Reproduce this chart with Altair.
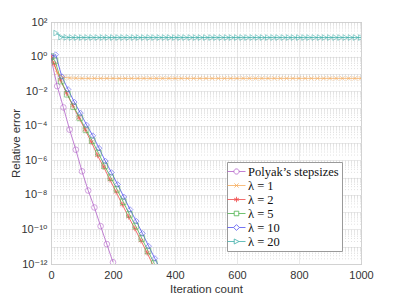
import altair as alt
import pandas as pd

# ---------------- data ----------------
series_names = ["Polyak\u2019s stepsizes", "\u03bb = 1", "\u03bb = 2", "\u03bb = 5", "\u03bb = 10", "\u03bb = 20"]
colors = ["#B160C8", "#F6AD5E", "#F04848", "#4DB24D", "#5050F0", "#3FAFAA"]

polyak_x = [0, 20, 40, 60, 80, 100, 120, 140, 160, 180, 200]
polyak_log = [-0.08, -1.71, -2.94, -4.23, -5.39, -6.64, -7.75, -8.73, -9.81, -10.85, -11.9]

lam1_x = list(range(0, 1001, 20))
lam1_log = [0.0, -0.95, -1.2, -1.24, -1.25, -1.26, -1.26, -1.26, -1.26, -1.26,
            -1.26, -1.26, -1.26, -1.26, -1.26, -1.26, -1.26, -1.26, -1.26, -1.26,
            -1.26, -1.26, -1.26, -1.26, -1.26, -1.26, -1.26, -1.26, -1.26, -1.26,
            -1.26, -1.26, -1.26, -1.26, -1.26, -1.26, -1.26, -1.26, -1.26, -1.26,
            -1.26, -1.26, -1.26, -1.26, -1.26, -1.26, -1.26, -1.26, -1.26, -1.26,
            -1.26]

lam2_x = [0, 10, 30, 50, 70, 90, 110, 130, 150, 170, 190, 210, 230, 250, 270, 290, 310, 330]
lam2_log = [0.0, -0.42, -1.35, -2.11, -2.83, -3.54, -4.23, -4.94, -5.72, -6.39,
            -7.12, -7.83, -8.56, -9.27, -9.94, -10.65, -11.35, -12.1]

lam5_x = [0, 13, 33, 53, 73, 93, 113, 133, 153, 173, 193, 213, 233, 253, 273, 293, 313, 333, 353]
lam5_log = [0.0, -0.25, -1.42, -2.18, -2.9, -3.55, -4.24, -4.87, -5.58, -6.32,
            -7.0, -7.68, -8.4, -9.13, -9.8, -10.52, -11.25, -11.97, -12.7]

lam10_x = [0, 15, 35, 55, 75, 95, 115, 135, 155, 175, 195, 215, 235, 255, 275, 295, 315, 335, 355]
lam10_log = [0.0, 0.11, -1.16, -1.9, -2.63, -3.27, -3.96, -4.58, -5.3, -6.04,
             -6.71, -7.4, -8.12, -8.85, -9.52, -10.23, -10.97, -11.68, -12.4]

lam20_x = [17, 33, 50, 67, 83, 100, 117, 133, 150, 167, 183, 200, 217, 233, 250, 267, 283, 300,
           317, 333, 350, 367, 383, 400, 417, 433, 450, 467, 483, 500, 517, 533, 550, 567, 583,
           600, 617, 633, 650, 667, 683, 700, 717, 733, 750, 767, 783, 800, 817, 833, 850, 867,
           883, 900, 917, 933, 950, 967, 983, 1000]
lam20_log = [1.36, 1.13, 1.11, 1.1, 1.1, 1.1, 1.1, 1.1, 1.1, 1.1,
             1.1, 1.1, 1.1, 1.1, 1.1, 1.1, 1.1, 1.1, 1.1, 1.1,
             1.1, 1.1, 1.1, 1.1, 1.1, 1.1, 1.1, 1.1, 1.1, 1.1,
             1.1, 1.1, 1.1, 1.1, 1.1, 1.1, 1.1, 1.1, 1.1, 1.1,
             1.1, 1.1, 1.1, 1.1, 1.1, 1.1, 1.1, 1.1, 1.1, 1.1,
             1.1, 1.1, 1.1, 1.1, 1.1, 1.1, 1.1, 1.1, 1.1, 1.1]

x_ticks = [0, 200, 400, 600, 800, 1000]
y_decades = list(range(-12, 3))
y_label_exps = [2, 0, -2, -4, -6, -8, -10, -12]

# ---------------- build table ----------------
all_x = [polyak_x, lam1_x, lam2_x, lam5_x, lam10_x, lam20_x]
all_log = [polyak_log, lam1_log, lam2_log, lam5_log, lam10_log, lam20_log]
frames = []
for name, xs, ls in zip(series_names, all_x, all_log):
    frames.append(pd.DataFrame({"series": name, "iter": xs, "err": [10.0 ** v for v in ls]}))
df = pd.concat(frames, ignore_index=True)

minor_vals = [k * 10.0 ** e for e in range(-12, 2) for k in range(2, 10)]
df_minor = pd.DataFrame({"err": minor_vals})

# superscript labels
sup = str.maketrans("-0123456789", "\u207b\u2070\u00b9\u00b2\u00b3\u2074\u2075\u2076\u2077\u2078\u2079")
label_expr = "''"
for e in y_label_exps:
    label_expr = f"round(log(datum.value)/LN10) == {e} ? '10{str(e).translate(sup)}' : ({label_expr})"

FONT = "Liberation Sans"
xscale = alt.Scale(domain=[0, 1000], nice=False, zero=False)
yscale = alt.Scale(type="log", domain=[1e-12, 1e2], nice=False)

x_axis = alt.Axis(values=x_ticks, format="d", title="Iteration count", grid=True, gridColor="#e3e3e3",
                  gridWidth=0.8, domain=False, ticks=False, labelFont=FONT, labelFontSize=11,
                  labelColor="#333333", labelPadding=5, titleFont=FONT, titleFontSize=11.5,
                  titleFontWeight="normal", titleColor="#333333", titlePadding=3, labelFlush=False)
y_axis = alt.Axis(values=[10.0 ** e for e in y_decades], labelExpr=label_expr,
                  title="Relative error", grid=True, gridColor="#e3e3e3", gridWidth=0.8,
                  domain=False, ticks=False, labelFont="Liberation Sans, DejaVu Sans", labelFontSize=11,
                  labelColor="#333333", labelPadding=4, titleFont=FONT, titleFontSize=11.5,
                  titleFontWeight="normal", titleColor="#333333", titleX=-30, labelFlush=False)
x_enc = alt.X("iter:Q", scale=xscale, axis=x_axis)
y_enc = alt.Y("err:Q", scale=yscale, axis=y_axis)

minor = alt.Chart(df_minor).mark_rule(strokeDash=[1, 2], color="#cccccc", strokeWidth=0.6).encode(
    y=y_enc)

marker_shapes = ["circle",
                 "M-0.8,-0.8L0.8,0.8M-0.8,0.8L0.8,-0.8",
                 "M0,-1V1M-0.87,-0.5L0.87,0.5M-0.87,0.5L0.87,-0.5",
                 "square", "diamond", "triangle-right"]
line_layers = []
marker_layers = []
for name, shp, col in zip(series_names, marker_shapes, colors):
    base = alt.Chart(df).transform_filter(alt.FieldEqualPredicate(field="series", equal=name))
    line_layers.append(base.mark_line(strokeWidth=0.8, clip=True, color=col).encode(x=x_enc, y=y_enc))
    marker_layers.append(
        base.transform_filter(alt.datum.err >= 0.999e-12)
        .mark_point(shape=shp, filled=False, size=32, strokeWidth=0.8, clip=True, color=col)
        .encode(x=x_enc, y=y_enc))

legend_paths = [
    "M-1.5,0H-0.43M0.43,0H1.5M0.43,0A0.43,0.43,0,1,1,-0.43,0A0.43,0.43,0,1,1,0.43,0",
    "M-1.5,0H1.5M-0.35,-0.35L0.35,0.35M-0.35,0.35L0.35,-0.35",
    "M-1.5,0H1.5M0,-0.45V0.45M-0.39,-0.22L0.39,0.22M-0.39,0.22L0.39,-0.22",
    "M-1.5,0H-0.38M0.38,0H1.5M-0.38,-0.38H0.38V0.38H-0.38Z",
    "M-1.5,0H-0.48M0.48,0H1.5M0,-0.48L0.48,0L0,0.48L-0.48,0Z",
    "M-1.5,0H-0.38M0.42,0H1.5M-0.38,-0.42L0.42,0L-0.38,0.42Z",
]
leg = alt.Legend(title=None, orient="none", legendX=176, legendY=140, direction="vertical",
                 fillColor="white", strokeColor="#9a9a9a", padding=3, labelFont="Liberation Serif",
                 labelFontSize=12.5, labelColor="#111111", labelOffset=5, symbolSize=144,
                 symbolStrokeWidth=0.8, rowPadding=1, labelLimit=200, cornerRadius=0)
legend_layer = alt.Chart(df).mark_point(opacity=0, filled=False).encode(
    x=x_enc, y=y_enc,
    color=alt.Color("series:N", scale=alt.Scale(domain=series_names, range=colors), legend=leg),
    shape=alt.Shape("series:N", scale=alt.Scale(domain=series_names, range=legend_paths), legend=leg))

chart = alt.layer(minor, *line_layers, *marker_layers, legend_layer).properties(
    width=310, height=242, padding={"left": 2, "top": 8, "right": 5, "bottom": 5}
).configure_view(stroke="#8f8f8f", strokeWidth=1)

chart.save("out.html", embed_options={"renderer": "svg", "actions": False})
